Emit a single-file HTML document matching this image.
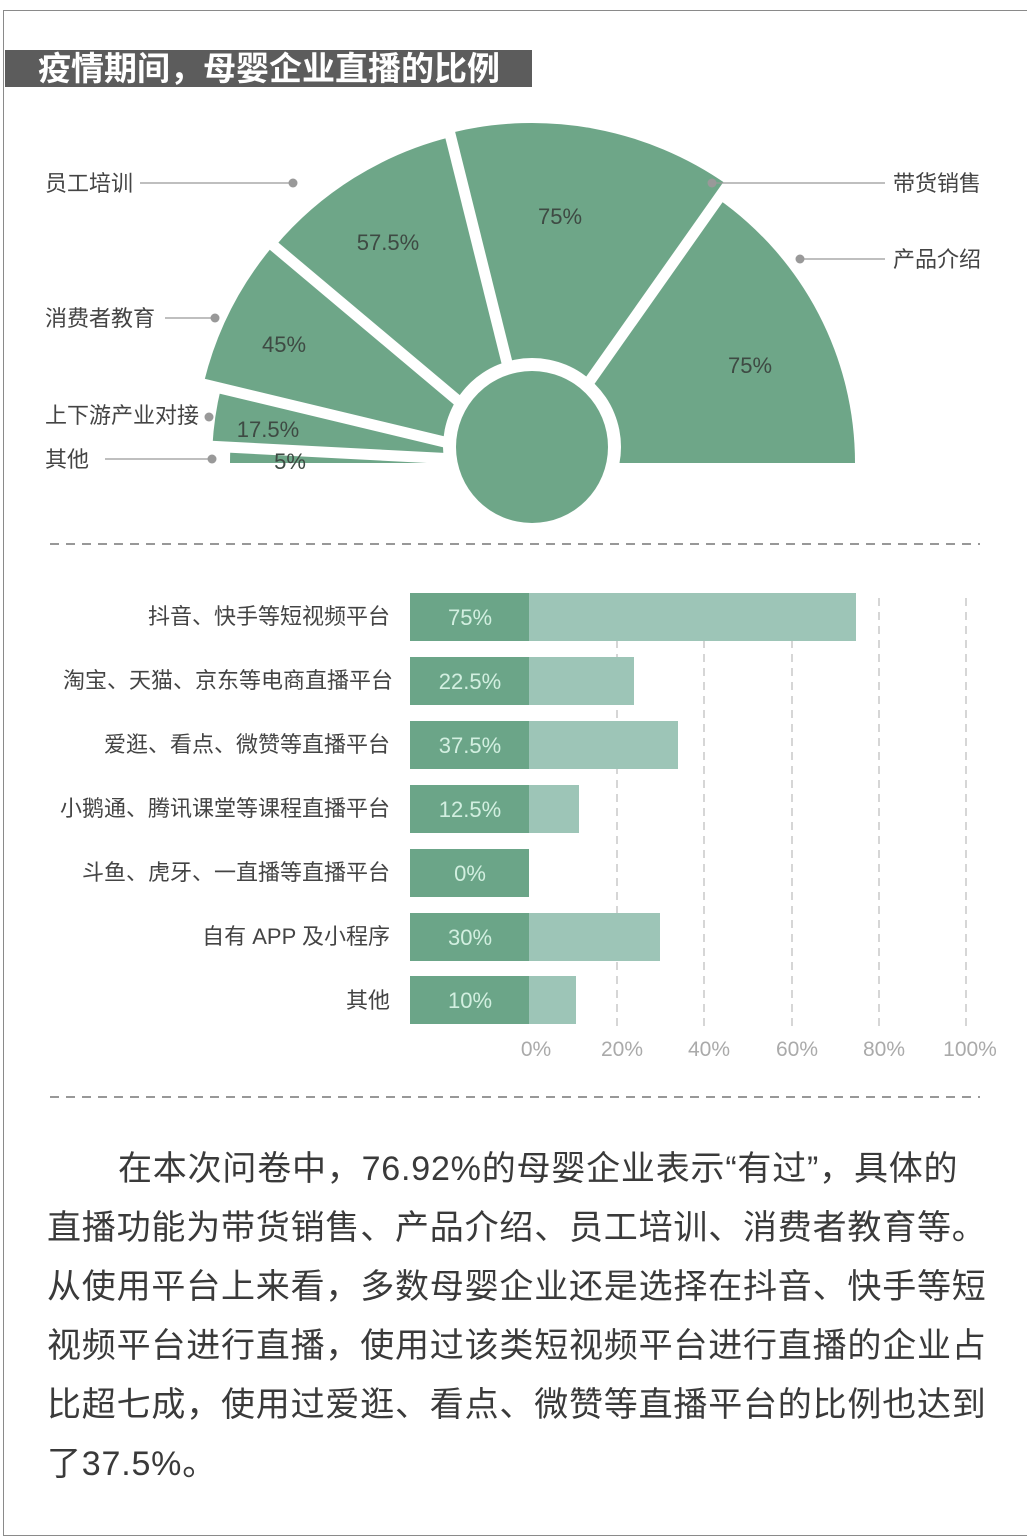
<!DOCTYPE html>
<html><head><meta charset="utf-8">
<style>
html,body{margin:0;padding:0;background:#fff;}
body{width:1031px;height:1539px;position:relative;overflow:hidden;font-family:"Liberation Sans","Noto Sans CJK SC",sans-serif;}
.p{position:absolute;left:47px;font-size:34px;color:#3a3a3a;white-space:nowrap;letter-spacing:0.8px;}
</style></head><body>
<div style="position:absolute;left:3px;top:10px;width:1023px;height:1524px;border:1.5px solid #8a8a8a;border-right:none;"></div>
<div style="position:absolute;left:5px;top:50px;width:527px;height:37px;background:#5c5c5c;"></div>
<div style="position:absolute;left:38px;top:50px;height:37px;line-height:37px;font-size:33px;font-weight:bold;color:#fff;">疫情期间，母婴企业直播的比例</div>
<svg width="1031" height="1539" style="position:absolute;left:0;top:0" font-family="Liberation Sans, Noto Sans CJK SC, sans-serif">
<g fill="#6ea688">
<path d="M532 463 L230 463 A302 302 0 0 1 230.4 447.2 Z"/>
<path d="M532 463 L212.4 446.3 A320 320 0 0 1 220.9 388.3 Z"/>
<path d="M532 463 L203.5 384.1 A338 338 0 0 1 273.1 245.7 Z"/>
<path d="M532 463 L274.6 247.0 A336 336 0 0 1 450.7 137.0 Z"/>
<path d="M532 463 L449.7 133.1 A340 340 0 0 1 727.0 184.5 Z"/>
<path d="M532 463 L717.3 198.4 A323 323 0 0 1 855 463 Z"/>
</g>
<g stroke="#fff" stroke-width="11">
<line x1="532" y1="463" x2="172.5" y2="444.2"/>
<line x1="532" y1="463" x2="182" y2="379"/>
<line x1="532" y1="463" x2="256" y2="231"/>
<line x1="532" y1="463" x2="445" y2="114"/>
<line x1="532" y1="463" x2="740" y2="168"/>
</g>
<circle cx="532" cy="447" r="89" fill="#fff"/>
<circle cx="532" cy="447" r="76" fill="#6ea688"/>
<g fill="#3e4a43" font-size="22" text-anchor="middle">
<text x="388" y="250">57.5%</text><text x="560" y="224">75%</text>
<text x="284" y="352">45%</text><text x="268" y="437">17.5%</text>
<text x="290" y="469">5%</text><text x="750" y="373">75%</text>
</g>
<g stroke="#999" stroke-width="1.2">
<line x1="140" y1="183" x2="293" y2="183"/><line x1="712" y1="183" x2="885" y2="183"/>
<line x1="800" y1="259" x2="885" y2="259"/><line x1="165" y1="318" x2="215" y2="318"/>
<line x1="105" y1="459" x2="212" y2="459"/>
</g>
<g fill="#999"><circle cx="293" cy="183" r="4.5"/><circle cx="712" cy="183" r="4.5"/><circle cx="800" cy="259" r="4.5"/><circle cx="215" cy="318" r="4.5"/><circle cx="209" cy="417" r="4.5"/><circle cx="212" cy="459" r="4.5"/></g>
<g fill="#444" font-size="22">
<text x="45" y="191">员工培训</text><text x="893" y="191">带货销售</text><text x="893" y="267">产品介绍</text>
<text x="45" y="326">消费者教育</text><text x="45" y="423">上下游产业对接</text><text x="45" y="467">其他</text>
</g>
<g stroke="#777" stroke-width="1.5" stroke-dasharray="9,7">
<line x1="50" y1="544" x2="980" y2="544"/><line x1="50" y1="1097" x2="980" y2="1097"/>
</g>
<g stroke="#bbb" stroke-width="1.2" stroke-dasharray="8,6">
<line x1="617" y1="598" x2="617" y2="1030"/><line x1="704" y1="598" x2="704" y2="1030"/>
<line x1="792" y1="598" x2="792" y2="1030"/><line x1="879" y1="598" x2="879" y2="1030"/>
<line x1="966" y1="598" x2="966" y2="1030"/>
</g>
<g fill="#9dc5b7">
<rect x="529" y="593" width="327" height="48"/><rect x="529" y="657" width="105" height="48"/>
<rect x="529" y="721" width="149" height="48"/><rect x="529" y="785" width="50" height="48"/>
<rect x="529" y="913" width="131" height="48"/><rect x="529" y="976" width="47" height="48"/>
</g>
<g fill="#6ba588">
<rect x="410" y="593" width="119" height="48"/><rect x="410" y="657" width="119" height="48"/>
<rect x="410" y="721" width="119" height="48"/><rect x="410" y="785" width="119" height="48"/>
<rect x="410" y="849" width="119" height="48"/><rect x="410" y="913" width="119" height="48"/>
<rect x="410" y="976" width="119" height="48"/>
</g>
<g fill="#d2efe0" font-size="22" text-anchor="middle">
<text x="470" y="625">75%</text><text x="470" y="689">22.5%</text><text x="470" y="753">37.5%</text>
<text x="470" y="817">12.5%</text><text x="470" y="881">0%</text><text x="470" y="945">30%</text><text x="470" y="1008">10%</text>
</g>
<g fill="#444" font-size="22" text-anchor="end">
<text x="390" y="624">抖音、快手等短视频平台</text><text x="393" y="688">淘宝、天猫、京东等电商直播平台</text>
<text x="390" y="752">爱逛、看点、微赞等直播平台</text><text x="390" y="816">小鹅通、腾讯课堂等课程直播平台</text>
<text x="390" y="880">斗鱼、虎牙、一直播等直播平台</text><text x="390" y="944">自有 APP 及小程序</text>
<text x="390" y="1008">其他</text>
</g>
<g fill="#aaa" font-size="21" text-anchor="middle">
<text x="536" y="1056">0%</text><text x="622" y="1056">20%</text><text x="709" y="1056">40%</text>
<text x="797" y="1056">60%</text><text x="884" y="1056">80%</text><text x="970" y="1056">100%</text>
</g>
</svg>
<div class="p" style="top:1141px;left:118px;">在本次问卷中，76.92%的母婴企业表示“有过”，具体的</div>
<div class="p" style="top:1200px;">直播功能为带货销售、产品介绍、员工培训、消费者教育等。</div>
<div class="p" style="top:1259px;">从使用平台上来看，多数母婴企业还是选择在抖音、快手等短</div>
<div class="p" style="top:1318px;">视频平台进行直播，使用过该类短视频平台进行直播的企业占</div>
<div class="p" style="top:1377px;">比超七成，使用过爱逛、看点、微赞等直播平台的比例也达到</div>
<div class="p" style="top:1436px;">了37.5%。</div>
</body></html>
